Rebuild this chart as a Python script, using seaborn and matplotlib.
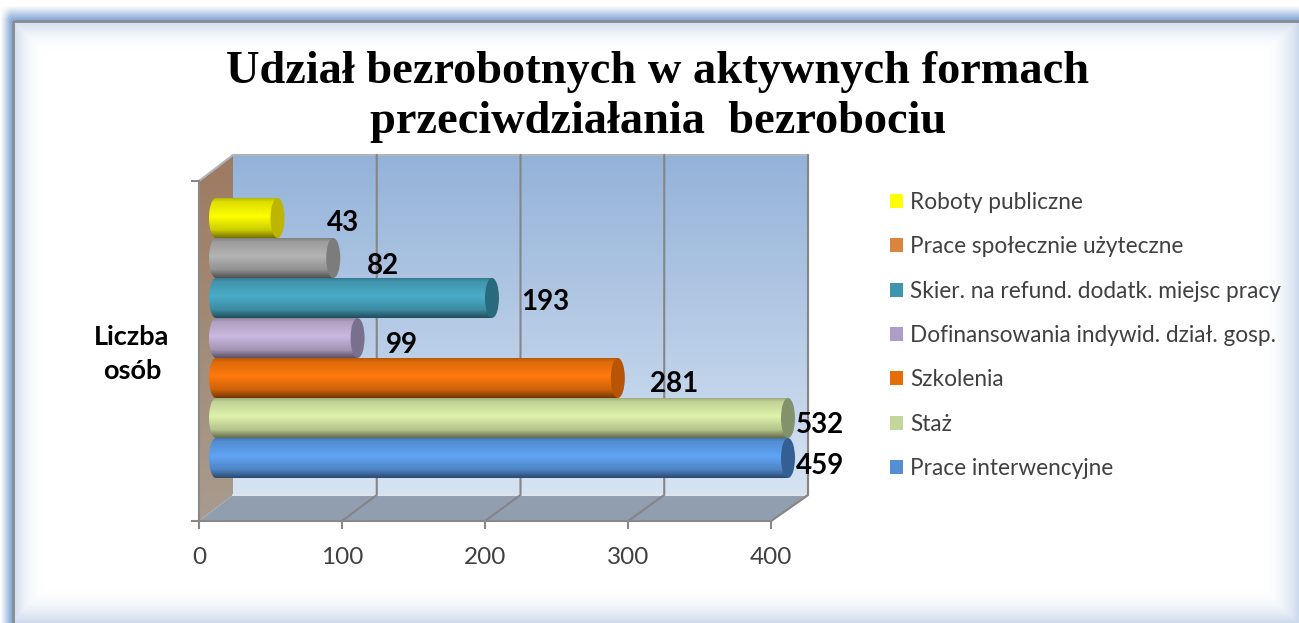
import numpy as np
import pandas as pd
import matplotlib
matplotlib.use('Agg')
import matplotlib.pyplot as plt
import seaborn as sns
from matplotlib.patches import Ellipse, Patch, Polygon, PathPatch
from matplotlib.path import Path

# data, top bar first
categories = ['Roboty publiczne', 'Prace społecznie użyteczne', 'Skier. na refund. dodatk. miejsc pracy',
              'Dofinansowania indywid. dział. gosp.', 'Szkolenia', 'Staż', 'Prace interwencyjne']
values = [43, 82, 193, 99, 281, 532, 459]
x_ticks = [0, 100, 200, 300, 400]
title = 'Udział bezrobotnych w aktywnych formach\nprzeciwdziałania  bezrobociu'

bar_colors = ['#FFFF00', '#B4B4B4', '#4BACC8', '#CBB8E0', '#FF7A0C', '#DFF2AC', '#60A4F4']
cap_colors = ['#BDB500', '#7C7C7C', '#2A6A7E', '#78708C', '#B85406', '#82936C', '#335F94']
legend_colors = ['#FFFF00', '#DB843D', '#3D96AE', '#B09CC8', '#E86C08', '#C3D69B', '#558ED5']

# label nudges in pixels from the end of each cylinder
label_dx = [65, 50, 53, 44, 56, 32, 32]
label_dy = [-5, -8, -4, -7, -6, -7, -8]

W, H = 1299, 623
sns.set_style('white')
plt.rcParams['font.family'] = ['Lato', 'DejaVu Sans']

fig = plt.figure(figsize=(W / 100, H / 100), dpi=100)


def box(x0, y0, x1, y1):
    return [x0 / W, 1 - y1 / H, (x1 - x0) / W, (y1 - y0) / H]


# backdrop in pixel coordinates
ax_bg = fig.add_axes([0, 0, 1, 1])
ax_bg.set_xlim(0, W)
ax_bg.set_ylim(H, 0)
ax_bg.axis('off')

xx, yy = np.meshgrid(np.arange(W) + 0.5, np.arange(H) + 0.5)
glow = np.maximum.reduce([
    np.clip(1 - (xx - 12) / 32, 0, 1) ** 2,
    np.clip(1 - (yy - 20) / 32, 0, 1) ** 2,
    np.clip(1 - (W - xx) / 36, 0, 1) ** 2,
    np.clip(1 - (H - yy) / 34, 0, 1) ** 2,
])
inner = 1 - glow[..., None] * (1 - np.array([0.80, 0.85, 0.925]))
outer_t = np.clip((xx - 1) / 10, 0, 1) * np.clip((yy - 6) / 13, 0, 1)
outer = 1 - outer_t[..., None] * (1 - np.array([0.55, 0.68, 0.85]))
frame = ((xx < 12) | (yy < 20))[..., None]
ax_bg.imshow(np.where(frame, outer, inner), extent=(0, W, H, 0), aspect='auto', zorder=0)
ax_bg.plot([13, 13, W], [H, 21, 21], color='#858a90', lw=2, zorder=1)

# 3d box around the plot
fx0, fx1, fy0, fy1 = 199, 771, 181, 521
bx0, bx1, by0, by1 = 233, 808, 155, 495
wall_ramp = np.linspace(0, 1, 256)[:, None, None]
wall_img = np.array([0.58, 0.70, 0.85]) * (1 - wall_ramp) + np.array([0.84, 0.89, 0.95]) * wall_ramp
ax_bg.imshow(wall_img, extent=(bx0, bx1, by1, by0), aspect='auto', zorder=1)
side_img = np.array([0.62, 0.48, 0.38]) * (1 - wall_ramp) + np.array([0.66, 0.61, 0.56]) * wall_ramp
side = ax_bg.imshow(side_img, extent=(fx0, bx0, fy1, by0), aspect='auto', zorder=1)
side.set_clip_path(Polygon([(fx0, fy0), (bx0, by0), (bx0, by1), (fx0, fy1)], transform=ax_bg.transData))
ax_bg.add_patch(Polygon([(fx0, fy1), (bx0, by1), (bx1, by1), (fx1, fy1)], fc='#909EB0', ec='none', zorder=1))
ax_bg.plot([bx0, bx1], [by1, by1], color='#dfe3ea', lw=1.5, zorder=2)
ax_bg.plot([bx0, bx1, bx1, fx1], [by0, by0, by1, fy1], color='#b0b4ba', lw=1.5, zorder=2)
ax_bg.plot([fx0, bx0], [fy0, by0], color='#b0b4ba', lw=1.5, zorder=2)

scale = (fx1 - fx0) / x_ticks[-1]
back_scale = (bx1 - bx0) / x_ticks[-1]
for t in x_ticks[1:]:
    px = fx0 + t * scale
    qx = bx0 + t * back_scale
    ax_bg.plot([px, qx, qx], [fy1, by1, by0], color='#858585', lw=1.5, zorder=2)
ax_bg.set_xlim(0, W)
ax_bg.set_ylim(H, 0)

# front axis with the ticks
ax = fig.add_axes(box(fx0, fy0, fx1, fy1), zorder=2)
ax.patch.set_alpha(0)
ax.set_xlim(0, x_ticks[-1])
ax.set_ylim(0, 1)
ax.set_xticks(x_ticks)
ax.set_yticks([0, 1])
ax.set_yticklabels([])
sns.despine(ax=ax)
for s in ['left', 'bottom']:
    ax.spines[s].set_color('#888888')
    ax.spines[s].set_linewidth(1.5)
ax.tick_params(axis='both', length=6, width=1.5, color='#888888', left=True, bottom=True)
ax.tick_params(axis='x', labelsize=17.5, labelcolor='#404040', pad=13)
ax.set_ylabel('Liczba\nosób', rotation=0, fontsize=19.5, fontweight='bold', color='black', linespacing=1.5,
              ha='center', va='center')
ax.yaxis.set_label_coords((132 - fx0) / (fx1 - fx0), 0.49)

# the bars, cut off at the axis end like the original
ax_bars = fig.add_axes(box(fx0 + 17, 198, fx1 + 17, 478), zorder=3)
ax_bars.patch.set_alpha(0)
df = pd.DataFrame({'kategoria': categories, 'osoby': values})
sns.barplot(data=df, y='kategoria', x='osoby', hue='kategoria', palette=bar_colors, width=1.0,
            dodge=False, legend=False, saturation=1, linewidth=0, ax=ax_bars)
xmax = x_ticks[-1]
cap_w = 14 / scale
shade = np.interp(np.linspace(0, 1, 64), [0, 0.08, 0.45, 0.8, 1], [0.72, 0.86, 1.0, 0.8, 0.45])[:, None, None]
th = np.linspace(np.pi / 2, 3 * np.pi / 2, 40)
for i, v in enumerate(values):
    end = min(v, xmax)
    c = np.array(matplotlib.colors.to_rgb(bar_colors[i]))
    # round left end + shading as a cylinder
    outline = np.column_stack([cap_w / 2 * np.cos(th), i - 0.5 * np.sin(th)])
    outline = np.vstack([outline, [end, i + 0.5], [end, i - 0.5], outline[:1]])
    im = ax_bars.imshow(shade * c, extent=(-cap_w, end, i + 0.5, i - 0.5), aspect='auto', zorder=5 + i)
    im.set_clip_box(fig.bbox)
    im.set_clip_path(PathPatch(Path(outline), transform=ax_bars.transData))
    ax_bars.add_patch(Ellipse((end, i), cap_w, 1.0, fc=cap_colors[i], ec='none', clip_on=False, zorder=5 + i))
    ax_bars.annotate(str(v), (end, i), xytext=(label_dx[i], label_dy[i]), textcoords='offset pixels',
                     ha='center', va='center', fontsize=20, fontweight='bold', color='black',
                     annotation_clip=False, zorder=20)
ax_bars.set_xlim(0, xmax)
ax_bars.set_ylim(6.5, -0.5)
ax_bars.axis('off')

# legend
handles = [Patch(fc=c, ec='none', label=n) for c, n in zip(legend_colors, categories)]
ax_bg.legend(handles=handles, loc='upper left', bbox_to_anchor=(890, 192), bbox_transform=ax_bg.transData,
             frameon=False, fontsize=16.3, labelcolor='#404040', labelspacing=1.03, handlelength=0.575,
             handleheight=0.575, handletextpad=0.31, borderaxespad=0, borderpad=0)

fig.suptitle(title, x=658 / W, y=1 - 51 / H, va='top', fontsize=33.4, fontweight='bold', family='Liberation Serif',
             color='black', linespacing=1.24)

fig.savefig('out.png', dpi=100)
